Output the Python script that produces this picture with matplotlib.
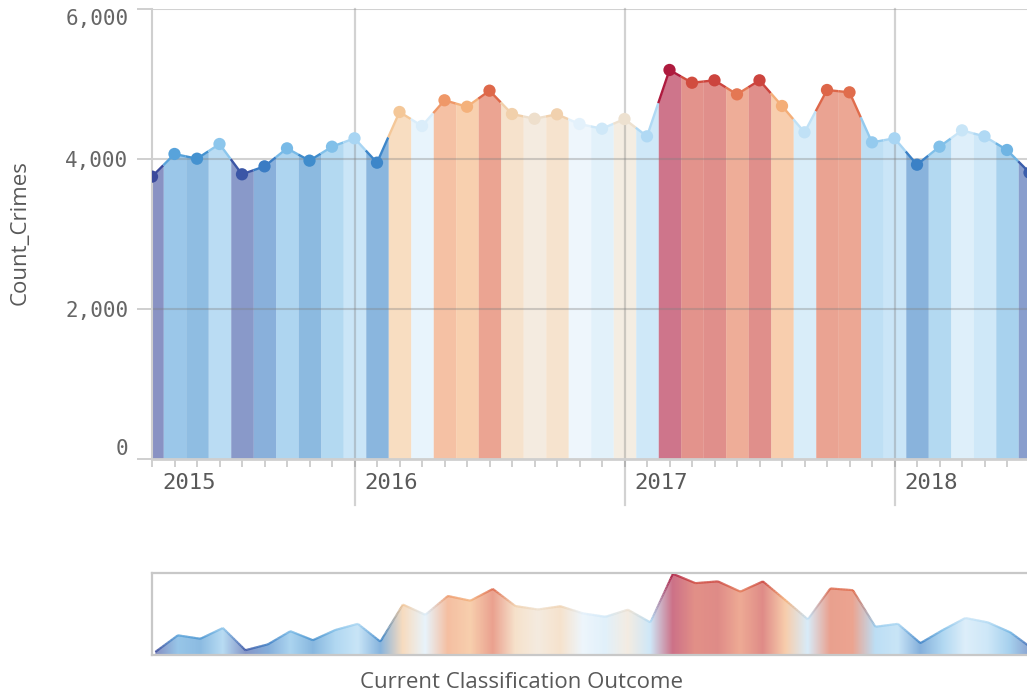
"""Monthly crime counts, coloured by level, with an overview strip below."""
import matplotlib
matplotlib.use("Agg")
import matplotlib.pyplot as plt
import numpy as np
from matplotlib.colors import LinearSegmentedColormap, Normalize, to_rgb
from matplotlib.collections import LineCollection
from matplotlib.patches import Polygon
from matplotlib.ticker import FuncFormatter

# monthly counts, Apr 2015 .. Jul 2018
counts = [3765, 4067, 4004, 4200, 3796, 3902, 4142, 3978, 4164, 4276,
          3951, 4627, 4440, 4783, 4697, 4911, 4600, 4537, 4596, 4467,
          4404, 4533, 4302, 5187, 5017, 5049, 4862, 5049, 4707, 4356,
          4920, 4889, 4222, 4276, 3924, 4164, 4382, 4302, 4120, 3818]
year_labels = ["2015", "2016", "2017", "2018"]
year_starts = [0, 9, 21, 33]
y_ticks = [0, 2000, 4000, 6000]

# diverging scale: low = dark blue, high = crimson
cmap_nodes = [
    (3760, "#3b4a9c"), (3900, "#3a7cc4"), (3980, "#3f8ccc"), (4070, "#5aa5dc"),
    (4150, "#7cbde8"), (4280, "#a9d6f3"), (4420, "#d4eaf9"), (4470, "#e4f1fb"),
    (4540, "#eedfcc"), (4600, "#f1d0ac"), (4650, "#f6c08a"), (4720, "#f3aa74"),
    (4800, "#ee9466"), (4880, "#e2704f"), (4930, "#dc6448"), (5030, "#d04a3e"),
    (5190, "#ae1a3e"),
]
vmin, vmax = cmap_nodes[0][0], cmap_nodes[-1][0]
cmap = LinearSegmentedColormap.from_list(
    "crime", [((v - vmin) / (vmax - vmin), c) for v, c in cmap_nodes])
norm = Normalize(vmin, vmax)

GREY = "#595959"
LINE_GREY = "#cfcfcf"

idx = np.arange(len(counts))
vals = np.array(counts, dtype=float)
colors = [cmap(norm(v)) for v in vals]
last = len(counts) - 1

W, H = 1027, 696
fig = plt.figure(figsize=(W / 100, H / 100), dpi=100)

# ---- main chart ----
px = 22.5  # pixels per month
xmax = 39.5
ax = fig.add_axes([152 / W, (H - 459) / H, xmax * px / W, 450 / H])
ax.set_xlim(0, xmax)
ax.set_ylim(0, 6000)

for i, v in enumerate(vals):
    a, b = max(i - 0.5, 0), min(i + 0.5, last)
    xs = np.array([a, i, b])
    ys = np.interp(xs, idx, vals)
    ax.fill_between(xs, 0, ys, color=colors[i], alpha=0.6, lw=0, zorder=1)
    ax.plot(xs, ys, color=colors[i], lw=1.7, zorder=3, solid_capstyle="butt")
ax.scatter(idx, vals, s=78, c=colors, zorder=4, linewidths=0)

for t in y_ticks[1:]:
    ax.axhline(t, color="#808080", alpha=0.35, lw=1.5, zorder=2.5)
for s in year_starts[1:]:
    ax.axvline(s, ymin=-46 / 450, ymax=1, color="#808080", alpha=0.35,
               lw=1.6, zorder=2.5, clip_on=False)
for lab, s in zip(year_labels, year_starts):
    ax.text(s + 0.45, -24 / 450, lab, transform=ax.get_xaxis_transform(),
            ha="left", va="center", family="DejaVu Sans Mono", fontsize=16,
            color=GREY)

for side in ("top", "right"):
    ax.spines[side].set_visible(False)
ax.spines["left"].set_color(LINE_GREY)
ax.spines["left"].set_linewidth(1.5)
ax.spines["bottom"].set_color(LINE_GREY)
ax.spines["bottom"].set_linewidth(2)

ax.set_xticks(idx)
ax.set_xticklabels([])
ax.tick_params(axis="x", length=6, width=1.4, color=LINE_GREY)
ax.set_yticks(y_ticks)
ax.yaxis.set_major_formatter(FuncFormatter(lambda v, _: f"{int(v):,}"))
ax.tick_params(axis="y", length=11, width=1.4, color=LINE_GREY, pad=6,
               labelsize=15, labelcolor="#666666")
for lab in ax.get_yticklabels():
    lab.set_family("DejaVu Sans Mono")
ylabs = ax.get_yticklabels()
ylabs[0].set_va("bottom")
ylabs[-1].set_va("top")

fig.text(20 / W, 1 - 233 / H, "Count_Crimes", rotation=90, ha="center",
         va="center", fontsize=16, family="Open Sans", color=GREY)

# ---- overview strip ----
mx = fig.add_axes([152 / W, (H - 655) / H, xmax * px / W, 82 / H])
rng = vals.max() - vals.min()
y0, y1 = vals.min() - 0.04 * rng, vals.max() + 0.01 * rng
mx.set_xlim(-0.15, xmax - 0.15)
mx.set_ylim(y0, y1)

fine = np.linspace(0, last, 1200)
fine_y = np.interp(fine, idx, vals)
rgb = np.array([to_rgb(c) for c in colors])
fine_rgb = np.stack([np.interp(fine, idx, rgb[:, k]) for k in range(3)], axis=1)
img = np.concatenate([fine_rgb, np.full((len(fine), 1), 0.62)], axis=1)[None, :, :]
im = mx.imshow(img, extent=[0, last, y0, y1], aspect="auto", origin="lower",
               interpolation="bilinear", zorder=1)
verts = np.vstack([[0, y0], np.column_stack([fine, fine_y]), [last, y0]])
clip = Polygon(verts, closed=True, facecolor="none", edgecolor="none")
mx.add_patch(clip)
im.set_clip_path(clip)
pts = np.column_stack([fine, fine_y]).reshape(-1, 1, 2)
segs = np.concatenate([pts[:-1], pts[1:]], axis=1)
mx.add_collection(LineCollection(segs, colors=fine_rgb[:-1], linewidths=1.5,
                                 zorder=2))
mx.set_xticks([])
mx.set_yticks([])
for sp in mx.spines.values():
    sp.set_color("#c8c8c8")
    sp.set_linewidth(1.6)

fig.text(521 / W, 1 - 683 / H, "Current Classification Outcome", ha="center",
         va="center", fontsize=16, family="Open Sans", color=GREY)

fig.savefig("out.png", dpi=100)
